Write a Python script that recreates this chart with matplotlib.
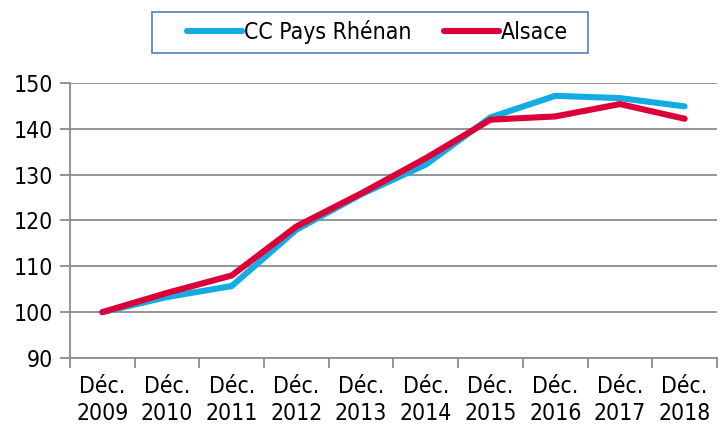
import numpy as np
import matplotlib.pyplot as plt
from matplotlib.patches import Rectangle

years = ['2009', '2010', '2011', '2012', '2013', '2014', '2015', '2016', '2017', '2018']
labels = [f'Déc.\n{y}' for y in years]

cc_rhenan = [100, 103.3, 105.7, 118.0, 125.7, 132.2, 142.5, 147.2, 146.7, 144.9]
alsace = [100, 104.2, 108.0, 118.7, 125.9, 133.6, 142.0, 142.7, 145.4, 142.2]

blue = '#12ACE2'
red = '#DC0039'
grey = '#8C8C8C'

plt.rcParams['font.family'] = 'DejaVu Sans'
plt.rcParams['font.stretch'] = 'condensed'
fs = 16.5

fig = plt.figure(figsize=(7.2, 4.28), dpi=100)
ax = fig.add_axes([0.0972, 0.1636, 0.8986, 0.6425])

x = np.arange(len(years))
ax.plot(x, cc_rhenan, color=blue, lw=4.4, solid_capstyle='round', label='CC Pays Rhénan', zorder=3)
ax.plot(x, alsace, color=red, lw=4.4, solid_capstyle='round', label='Alsace', zorder=4)

ax.set_xlim(-0.5, len(years) - 0.5)
ax.set_ylim(90, 150)
ax.set_yticks(np.arange(90, 151, 10))
ax.yaxis.grid(True, color=grey, lw=1.3)
ax.set_axisbelow(True)

ax.set_xticks(x)
ax.set_xticklabels(labels, fontsize=fs, fontstretch='condensed', linespacing=1.25)
ax.set_xticks(np.arange(-0.5, len(years)), minor=True)
ax.tick_params(axis='x', which='major', length=0, pad=12)
ax.tick_params(axis='x', which='minor', length=7, width=1.3, color=grey)
ax.tick_params(axis='y', length=7, width=1.3, color=grey, labelsize=fs, pad=5)
for t in ax.get_yticklabels():
    t.set_fontstretch('condensed')

for side in ['top', 'right']:
    ax.spines[side].set_visible(False)
for side in ['left', 'bottom']:
    ax.spines[side].set_color(grey)
    ax.spines[side].set_linewidth(1.3)

# legend box drawn separately: wider side padding than the legend allows
fig.patches.append(Rectangle((0.2111, 0.8762), 0.6056, 0.0958, transform=fig.transFigure,
                             facecolor='white', edgecolor='#4F81BD', lw=1.2))
leg = fig.legend(loc='center', bbox_to_anchor=(0.524, 0.925), ncol=2,
                 prop={'family': 'DejaVu Sans', 'stretch': 'condensed', 'size': fs},
                 frameon=False, handlelength=2.4, handletextpad=0.1,
                 columnspacing=1.4, borderpad=0.4)

fig.savefig('out.png', dpi=100)
